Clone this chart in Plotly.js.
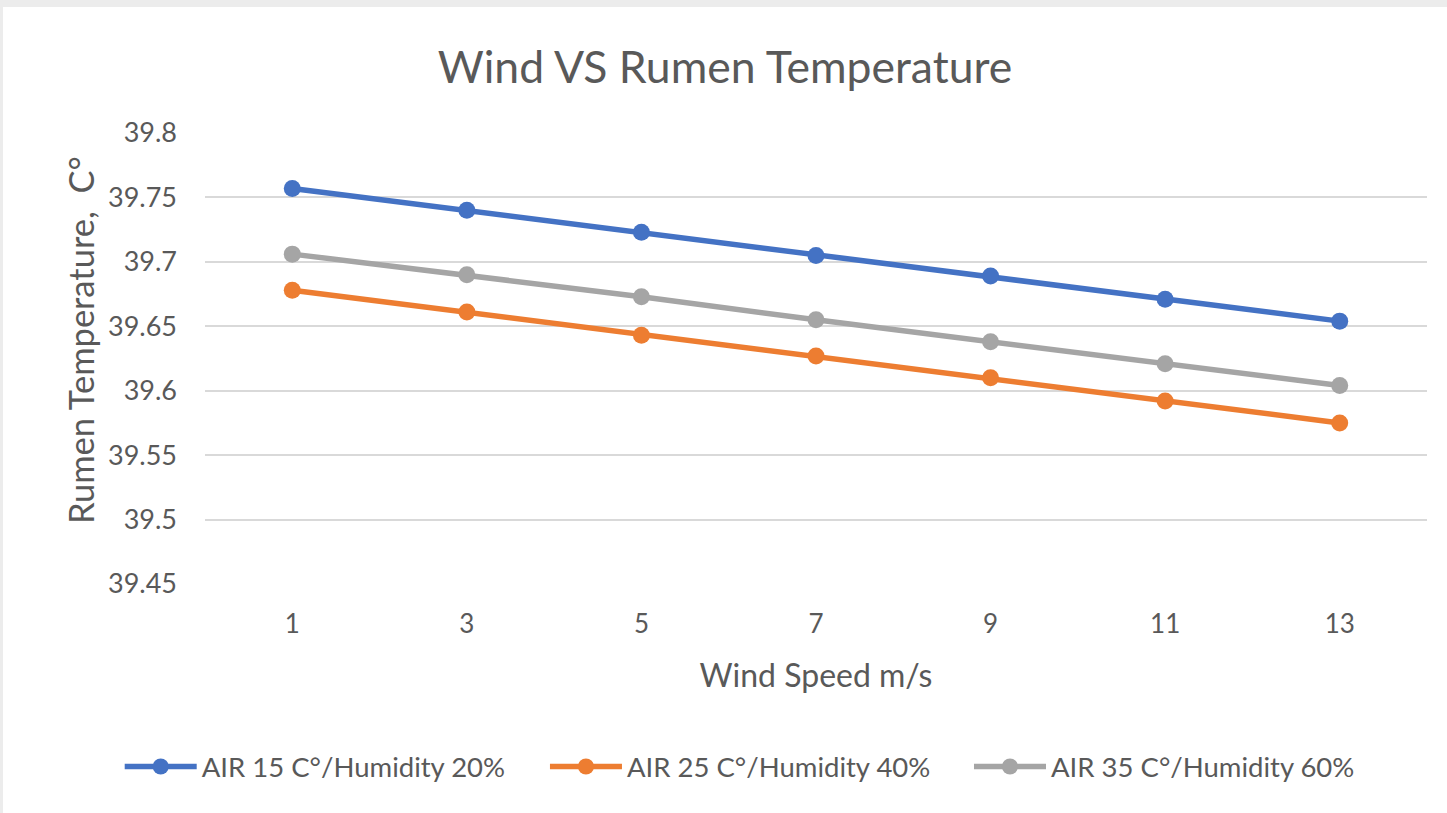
<!DOCTYPE html>
<html>
<head>
<meta charset="utf-8">
<script src="https://cdn.plot.ly/plotly-3.0.1.min.js"></script>
<style>
html,body{margin:0;padding:0;background:#ffffff;}
#frame{position:absolute;left:0;top:0;width:1447px;height:813px;background:#ececec;}
#chart{position:absolute;left:3px;top:7px;width:1444px;height:806px;background:#fff;}
</style>
</head>
<body>
<div id="frame"></div>
<div id="chart"></div>
<script>
const windSpeed = [1, 3, 5, 7, 9, 11, 13];
const air15 = [39.757, 39.740, 39.723, 39.705, 39.689, 39.671, 39.654];
const air25 = [39.678, 39.661, 39.643, 39.627, 39.610, 39.592, 39.575];
const air35 = [39.706, 39.690, 39.673, 39.655, 39.638, 39.621, 39.604];
const seriesNames = ["AIR 15 C°/Humidity 20%", "AIR 25 C°/Humidity 40%", "AIR 35 C°/Humidity 60%"];
const colors = ["#4472c4", "#ed7d31", "#a5a5a5"];
const yTicks = [39.45, 39.5, 39.55, 39.6, 39.65, 39.7, 39.75, 39.8];
const yTitle = 'Rumen Temperature,  C°';

const FONT = "Lato, 'Open Sans', sans-serif";
const legendIds = ['legend', 'legend2', 'legend3'];
const data = [air15, air25, air35].map((ys, i) => ({
  x: windSpeed, y: ys, type: 'scatter', mode: 'lines+markers',
  name: seriesNames[i], legend: legendIds[i],
  line: {color: colors[i], width: 5.5},
  marker: {color: colors[i], size: 17}
}));

const legendBase = {orientation: 'h', y: -0.405, yanchor: 'middle', xanchor: 'left',
  font: {size: 27.5, color: '#595959'}, itemwidth: 72, bgcolor: 'rgba(0,0,0,0)'};

const layout = {
  width: 1444, height: 806,
  margin: {l: 202, r: 20, t: 126, b: 229},
  paper_bgcolor: '#ffffff', plot_bgcolor: '#ffffff',
  font: {family: FONT, color: '#595959'},
  title: {text: 'Wind VS Rumen Temperature', font: {size: 44.5, color: '#595959', family: FONT}, x: 0.5, xanchor: 'center', y: 0.925, yanchor: 'middle'},
  xaxis: {
    range: [0, 14], tickvals: windSpeed, ticktext: windSpeed.map(String),
    showgrid: false, zeroline: false, showline: false, ticks: '',
    ticklabelstandoff: 22,
    tickfont: {size: 26, color: '#595959'},
    title: {text: 'Wind Speed m/s', font: {size: 32, color: '#595959'}, standoff: 26}
  },
  yaxis: {
    range: [39.45, 39.8], tickvals: yTicks, ticktext: yTicks.map(String),
    showgrid: true, gridcolor: '#d9d9d9', gridwidth: 2, zeroline: false, showline: false, ticks: '',
    ticklabelstandoff: 27,
    tickfont: {size: 27, color: '#595959'}
  },
  annotations: [{
    text: yTitle, xref: 'paper', yref: 'paper', x: -0.1023, y: 0.541,
    xanchor: 'center', yanchor: 'middle', textangle: -90, showarrow: false,
    font: {size: 34.5, color: '#595959', family: FONT}
  }],
  showlegend: true,
  legend: Object.assign({}, legendBase, {x: -0.0698}),
  legend2: Object.assign({}, legendBase, {x: 0.2782}),
  legend3: Object.assign({}, legendBase, {x: 0.6252})
};
Plotly.newPlot('chart', data, layout, {displayModeBar: false, staticPlot: true});
</script>
</body>
</html>
